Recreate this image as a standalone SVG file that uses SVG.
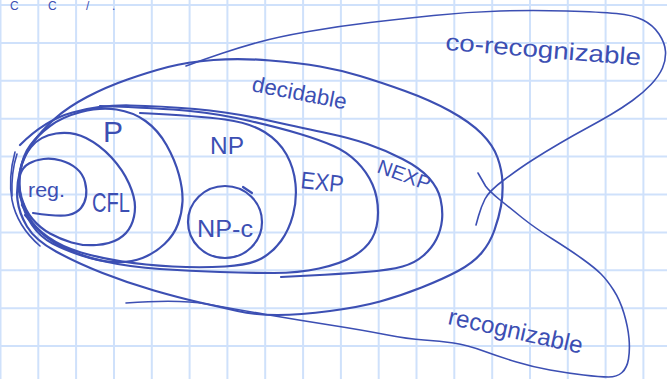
<svg xmlns="http://www.w3.org/2000/svg" width="667" height="379" viewBox="0 0 667 379">
<style>
.grid{stroke:#cfe1fb;stroke-width:2;fill:none}
.ink{stroke:#3c4fb3;stroke-width:2.2;fill:none;stroke-linecap:round;stroke-linejoin:round}
.thin{stroke-width:1.6}
.lbl{fill:#3c4fb3;font-family:"Liberation Sans","DejaVu Sans",sans-serif}
</style>
<rect x="0" y="0" width="667" height="379" fill="#ffffff"/>
<g id="grid">
<path class="grid" d="M0.5,0V379M38.3,0V379M76.1,0V379M114,0V379M151.8,0V379M189.6,0V379M227.4,0V379M265.2,0V379M303.1,0V379M340.9,0V379M378.7,0V379M416.5,0V379M454.3,0V379M492.2,0V379M530,0V379M567.8,0V379M605.6,0V379M643.4,0V379"/>
<path class="grid" d="M0,5H667M0,42.9H667M0,80.8H667M0,118.7H667M0,156.6H667M0,194.5H667M0,232.4H667M0,270.3H667M0,308.2H667M0,346.1H667"/>
</g>
<g id="header-fragment">
<text class="lbl" x="10" y="10" font-size="12">C</text>
<text class="lbl" x="48" y="10" font-size="12">C</text>
<text class="lbl" x="86" y="10" font-size="12">/</text>
<text class="lbl" x="112" y="10" font-size="12">.</text>
</g>
<g id="co-recognizable">
<path class="ink thin" d="M186,66 Q205,59 221.5,53.5 Q238,48 257.5,42.5 Q277,37 308.5,31.5 Q340,26 370,22.5 Q400,19 433.5,15.5 Q467,12 500,11 Q533,10 566.5,11 Q600,12 616.5,13.5 Q633,15 643,20 Q653,25 659,34 Q665,43 665.5,51.5 Q666,60 662.5,68 Q659,76 651,84.5 Q643,93 632.5,100.5 Q622,108 611,114.5 Q600,121 587,128 Q574,135 559.5,143.5 Q545,152 532.5,160 Q520,168 504.5,179.5 Q489,191 485,199 Q481,207 478.5,216 L476,225"/>
<text class="lbl" x="445" y="50" font-size="24" textLength="196" lengthAdjust="spacingAndGlyphs" transform="rotate(4.5 445 50)">co-recognizable</text>
</g>
<g id="recognizable">
<path class="ink thin" d="M126,303 Q179,299 206.5,304 Q234,309 266,314.5 Q298,320 330,325 Q362,330 385,334.5 Q408,339 424,340 Q440,341 453.5,343 Q467,345 483.5,351 Q500,357 516.5,362 Q533,367 550,370 Q567,373 583.5,375 Q600,377 608.5,377 Q617,377 622,372.5 Q627,368 628.5,359 Q630,350 629,338.5 Q628,327 624,313.5 Q620,300 613.5,290 Q607,280 601,274 Q595,268 582.5,259 Q570,250 552.5,239 Q535,228 522.5,218 Q510,208 499.5,199.5 Q489,191 485.5,186 L478,173"/>
<text class="lbl" x="447" y="324" font-size="24" textLength="137" lengthAdjust="spacingAndGlyphs" transform="rotate(12.5 447 324)">recognizable</text>
</g>
<g id="decidable">
<path class="ink" d="M168,67 Q187,62 213.5,60 Q240,58 270,60.5 Q300,63 320,66.5 Q340,70 360,76 Q380,82 405,91 Q430,100 450,111 Q470,122 481.5,133.5 Q493,145 497.5,157.5 Q502,170 502.5,182.5 Q503,195 501,206 Q499,217 494.5,230 Q490,243 481.5,253 Q473,263 458,271 Q443,279 421.5,287.5 Q400,296 380,301.5 Q360,307 330,311 Q300,315 277.5,315 Q255,315 237.5,311 Q220,307 200,302.5 Q180,298 154,290.5 Q128,283 102.5,273 Q77,263 56,251.5 Q35,240 27,226.5 Q19,213 17.5,200 Q16,187 20,171 Q24,155 33,142.5 Q42,130 55,118.5 Q68,107 87,97 Q106,87 127.5,79.5 Q149,72 168,67 Z"/>
<text class="lbl" x="251" y="91" font-size="22" textLength="96" lengthAdjust="spacingAndGlyphs" transform="rotate(11 251 91)">decidable</text>
</g>
<g id="nexp">
<path class="ink" d="M20,145 Q45,120 72.5,112.5 Q100,105 130,105.5 Q160,106 195,109 Q230,112 268.5,120.5 Q307,129 328.5,133.5 Q350,138 367.5,144 Q385,150 402.5,159 Q420,168 429,178 Q438,188 440.5,199 Q443,210 442,220 Q441,230 436.5,239 Q432,248 423.5,255.5 Q415,263 402.5,266.5 Q390,270 365,272 Q340,274 310,275.5 L281,277"/>
<text class="lbl" x="376" y="172" font-size="20" textLength="55" lengthAdjust="spacingAndGlyphs" transform="rotate(20 376 172)">NEXP</text>
</g>
<g id="exp">
<path class="ink" d="M100,106 Q160,108 190,111 Q220,114 250,121 Q280,128 300,134 Q320,140 333.5,146 Q347,152 357,162 Q367,172 372.5,184.5 Q378,197 378,212.5 Q378,228 372,238.5 Q366,249 353,256.5 Q340,264 319,268.5 Q298,273 274,273 Q250,273 220,272 Q190,271 160,269 Q130,267 105,261.5 Q80,256 62.5,247 Q45,238 35,226.5 L25,215"/>
<text class="lbl" x="300" y="188" font-size="24" textLength="43" lengthAdjust="spacingAndGlyphs" transform="rotate(6 300 188)">EXP</text>
</g>
<g id="np">
<path class="ink" d="M140,113 Q200,116 225,119.5 Q250,123 264.5,132 Q279,141 286.5,154.5 Q294,168 295.5,184 Q297,200 293,215 Q289,230 281,241 Q273,252 261.5,258.5 Q250,265 225,266.5 Q200,268 172.5,266.5 Q145,265 122.5,261.5 Q100,258 81,252.5 Q62,247 48.5,237.5 Q35,228 28.5,216.5 L22,205"/>
<text class="lbl" x="210" y="154" font-size="24" textLength="34" lengthAdjust="spacingAndGlyphs">NP</text>
</g>
<g id="np-complete">
<ellipse class="ink" cx="225" cy="222" rx="37" ry="36"/>
<path class="ink" d="M243,187 L252,193"/>
<text class="lbl" x="197" y="237" font-size="24" textLength="56" lengthAdjust="spacingAndGlyphs">NP-c</text>
</g>
<g id="p">
<path class="ink" d="M81,112 Q100,107 116.5,109.5 Q133,112 145.5,121 Q158,130 166.5,145 Q175,160 179,175 Q183,190 182.5,201.5 Q182,213 178,224 Q174,235 164.5,244 Q155,253 142.5,258 Q130,263 114,262 Q98,261 81.5,255.5 Q65,250 52.5,243.5 Q40,237 32,225 Q24,213 21,199 Q18,185 20.5,170 Q23,155 30.5,145 Q38,135 50,126 Q62,117 81,112 Z"/>
<text class="lbl" x="103" y="142" font-size="30">P</text>
</g>
<g id="cfl">
<path class="ink" d="M56,133.5 Q72,131 86,138 Q100,145 111.5,157.5 Q123,170 129,183.5 Q135,197 135,207 Q135,217 131,225.5 Q127,234 118.5,239 Q110,244 96.5,245 Q83,246 71.5,242.5 Q60,239 50,233.5 Q40,228 32.5,219 Q25,210 21.5,197.5 Q18,185 20,171.5 Q22,158 31,147 Q40,136 56,133.5 Z"/>
<text class="lbl" x="92" y="212" font-size="28" textLength="38" lengthAdjust="spacingAndGlyphs">CFL</text>
</g>
<g id="regular">
<path class="ink" d="M33,213 Q60,217 68.5,215 Q77,213 81,208 Q85,203 86,196.5 Q87,190 85,182 Q83,174 76.5,168.5 Q70,163 61,160.5 Q52,158 43.5,159 Q35,160 29,163.5 Q23,167 20.5,173.5 Q18,180 18.5,187.5 Q19,195 21.5,200 L24,205"/>
<text class="lbl" x="28" y="197" font-size="20" textLength="37" lengthAdjust="spacingAndGlyphs">reg.</text>
</g>
<g id="left-strokes">
<path class="ink thin" d="M15,152 Q8,178 12,200 Q17,226 40,246"/>
<path class="ink thin" d="M17,154 Q11,172 12,196"/>
</g>
<g id="connectors"></g>
</svg>
